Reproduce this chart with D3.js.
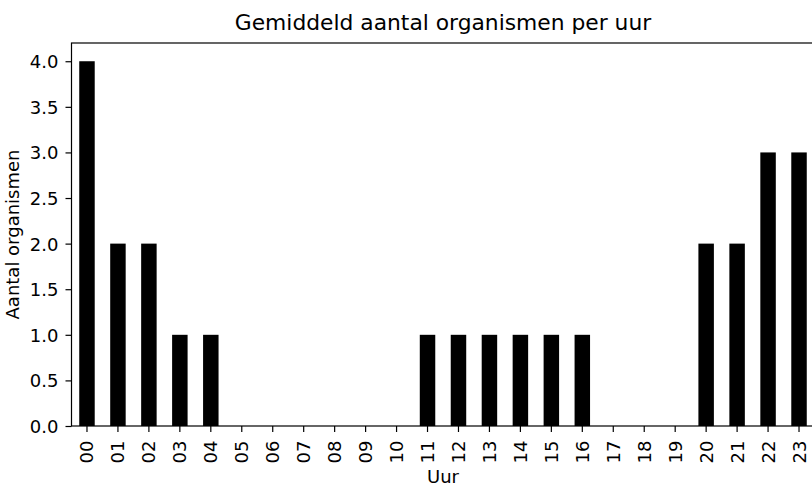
<!DOCTYPE html>
<html>
<head>
<meta charset="utf-8">
<script src="https://cdn.jsdelivr.net/npm/d3@7"></script>
<style>
  body { margin: 0; background: #fff; }
  svg text { font-family: "DejaVu Sans", sans-serif; fill: #000; }
</style>
</head>
<body>
<div id="chart"></div>
<script>
var w = 812;
var h = 486;

// data
var hours = ["00","01","02","03","04","05","06","07","08","09","10","11",
             "12","13","14","15","16","17","18","19","20","21","22","23"];
var counts = [4, 2, 2, 1, 1, 0, 0, 0, 0, 0, 0, 1, 1, 1, 1, 1, 1, 0, 0, 0, 2, 2, 3, 3];
var yTicks = [0, 0.5, 1, 1.5, 2, 2.5, 3, 3.5, 4];
var yMax = 4.2;

// plot area (right side runs off the picture, as in the original)
var plotLeft = 71.5, plotRight = 814.5, plotTop = 43, plotBottom = 426;
var fs = 18;

var svg = d3.select("#chart")
    .append("svg")
    .attr("width", w)
    .attr("height", h);

var x = d3.scaleBand()
    .domain(hours)
    .range([plotLeft, plotRight])
    .paddingInner(0.5)
    .paddingOuter(0.25);

var y = d3.scaleLinear()
    .domain([0, yMax])
    .range([plotBottom, plotTop]);

// bars
svg.append("g")
    .selectAll("rect")
    .data(counts)
    .join("rect")
    .attr("x", function(d, i) { return x(hours[i]); })
    .attr("y", function(d) { return y(d); })
    .attr("width", x.bandwidth())
    .attr("height", function(d) { return y(0) - y(d); })
    .attr("fill", "#000");

// y axis
var yAxis = d3.axisLeft(y)
    .tickValues(yTicks)
    .tickFormat(d3.format(".1f"))
    .tickSize(6)
    .tickPadding(7);

var yg = svg.append("g")
    .attr("transform", "translate(" + plotLeft + ",0)")
    .call(yAxis);
yg.select(".domain").remove();
yg.selectAll(".tick line").attr("stroke", "#000").attr("stroke-width", 1.2);
yg.selectAll(".tick text")
    .style("font-size", fs + "px")
    .attr("dy", "0.36em");

// x axis, labels turned upright
var xAxis = d3.axisBottom(x)
    .tickSize(6)
    .tickPadding(6);

var xg = svg.append("g")
    .attr("transform", "translate(0," + plotBottom + ")")
    .call(xAxis);
xg.select(".domain").remove();
xg.selectAll(".tick line").attr("stroke", "#000").attr("stroke-width", 1.2);
xg.selectAll(".tick text")
    .style("font-size", fs + "px")
    .attr("text-anchor", "end")
    .attr("transform", "rotate(-90)")
    .attr("x", -14.5)
    .attr("y", 0)
    .attr("dy", "0.36em");

// frame
svg.append("rect")
    .attr("x", plotLeft)
    .attr("y", plotTop)
    .attr("width", plotRight - plotLeft)
    .attr("height", plotBottom - plotTop)
    .attr("fill", "none")
    .attr("stroke", "#000")
    .attr("stroke-width", 1.2);

// title and axis labels
svg.append("text")
    .attr("x", (plotLeft + plotRight) / 2)
    .attr("y", 30)
    .attr("text-anchor", "middle")
    .style("font-size", "21.8px")
    .text("Gemiddeld aantal organismen per uur");

svg.append("text")
    .attr("x", (plotLeft + plotRight) / 2)
    .attr("y", 483)
    .attr("text-anchor", "middle")
    .style("font-size", fs + "px")
    .text("Uur");

svg.append("text")
    .attr("transform", "translate(18.5," + (plotTop + plotBottom) / 2 + ") rotate(-90)")
    .attr("text-anchor", "middle")
    .style("font-size", fs + "px")
    .text("Aantal organismen");
</script>
</body>
</html>
